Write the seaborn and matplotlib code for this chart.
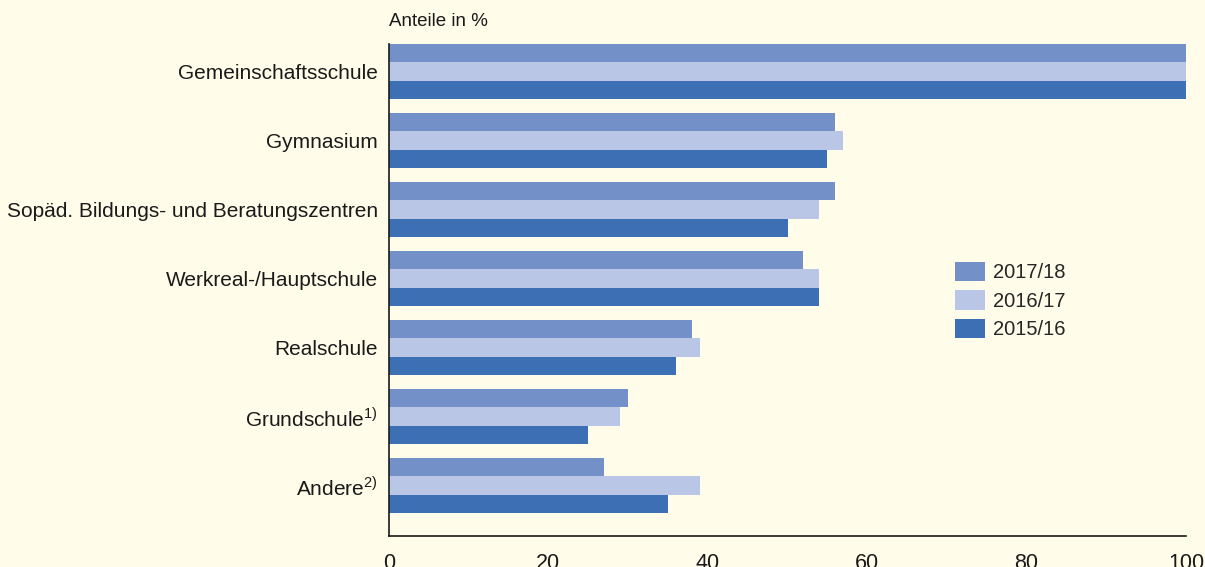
import matplotlib
matplotlib.use("Agg")
import matplotlib.pyplot as plt
import seaborn as sns
import pandas as pd

categories = ["Gemeinschaftsschule", "Gymnasium", "Sopäd. Bildungs- und Beratungszentren",
              "Werkreal-/Hauptschule", "Realschule", r"Grundschule$^{\mathregular{1)}}$",
              r"Andere$^{\mathregular{2)}}$"]
series = ["2017/18", "2016/17", "2015/16"]
v_2017 = [100, 56, 56, 52, 38, 30, 27]
v_2016 = [100, 57, 54, 54, 39, 29, 39]
v_2015 = [100, 55, 50, 54, 36, 25, 35]
colors = ["#7390C9", "#BAC6E6", "#3D6FB5"]
xticks = [0, 20, 40, 60, 80, 100]

rows = []
for s, vals in zip(series, [v_2017, v_2016, v_2015]):
    for c, v in zip(categories, vals):
        rows.append({"Schulart": c, "Jahr": s, "Anteil": v})
df = pd.DataFrame(rows)

sns.set_theme(style="white")
plt.rcParams["font.family"] = ["Liberation Sans", "DejaVu Sans"]
plt.rcParams["mathtext.fontset"] = "custom"
plt.rcParams["mathtext.rm"] = "Liberation Sans"
bg = "#FFFCE9"
fig = plt.figure(figsize=(12.05, 5.67), dpi=100, facecolor=bg)
ax = fig.add_axes([389/1205, 1-536/567, 797/1205, 492/567])
ax.set_facecolor(bg)

sns.barplot(data=df, x="Anteil", y="Schulart", hue="Jahr", order=categories,
            hue_order=series, palette=colors, orient="h", width=0.8,
            linewidth=0, saturation=1, ax=ax)

ax.set_xlim(0, 100)
ax.set_ylim(6.73, -0.4)
ax.set_xticks(xticks)
ax.set_xticklabels([str(t) for t in xticks], fontsize=15.5, color="#1a1a1a")
ax.tick_params(axis="x", direction="in", length=7.5, width=1.2, color="#1a1a1a", pad=12)
ax.tick_params(axis="y", length=0, pad=8, labelsize=15, labelcolor="#1a1a1a")
ax.set_xlabel("")
ax.set_ylabel("")
for sp in ["top", "right"]:
    ax.spines[sp].set_visible(False)
for sp in ["left", "bottom"]:
    ax.spines[sp].set_color("#1a1a1a")
    ax.spines[sp].set_linewidth(1.2)

fig.text(389/1205, 1-22/567, "Anteile in %", fontsize=13.5, color="#1a1a1a",
         ha="left", va="center")

handles, labels = ax.get_legend_handles_labels()
ax.legend(handles, labels, loc="upper left", bbox_to_anchor=(0.71, 0.557),
          frameon=False, borderaxespad=0, borderpad=0, fontsize=14.5,
          handlelength=1.49, handleheight=1.09, labelspacing=0.4,
          handletextpad=0.4)

fig.savefig("out.png", dpi=100, facecolor=bg)
